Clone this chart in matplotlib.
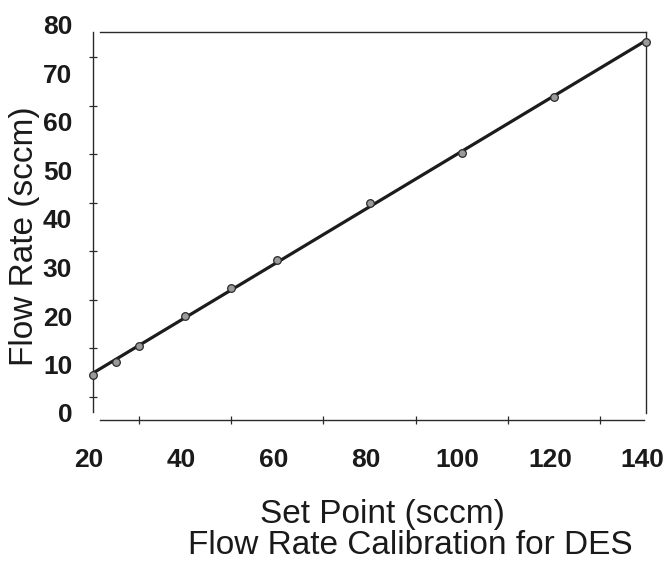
import matplotlib
matplotlib.use("Agg")
import matplotlib.pyplot as plt
import matplotlib.transforms as mtransforms
import numpy as np

# Data
set_point = [20, 25, 30, 40, 50, 60, 80, 100, 120, 140]
flow_rate = [7.8, 10.5, 13.8, 20.0, 25.8, 31.5, 43.3, 53.6, 65.2, 76.5]
x_tick_labels = [20, 40, 60, 80, 100, 120, 140]
y_tick_labels = [0, 10, 20, 30, 40, 50, 60, 70, 80]
x_minor = [30, 50, 70, 90, 110, 130]
y_minor = [3.4, 13.4, 23.4, 33.4, 43.4, 53.4, 63.4, 73.4]

plt.rcParams['font.family'] = ['Liberation Sans', 'DejaVu Sans']

W, H = 672, 562
fig = plt.figure(figsize=(W / 100, H / 100), dpi=100)
ax = fig.add_axes([93 / W, (H - 413) / H, 553 / W, 388 / H])
ax.set_xlim(20, 140)
ax.set_ylim(0, 80)

# fitted calibration line
coef = np.polyfit(set_point, flow_rate, 1)
xs = np.array([set_point[0], set_point[-1]])
ax.plot(xs, np.polyval(coef, xs), color='#1c1c1c', lw=2.3, solid_capstyle='butt',
        clip_on=False, zorder=3)
ax.plot(set_point, flow_rate, linestyle='none', marker='o', ms=5.5,
        mfc='#9a9a9a', mec='#2a2a2a', mew=0.9, clip_on=False, zorder=4)

spine_col = '#2a2a2a'
for s in ax.spines.values():
    s.set_color(spine_col)
    s.set_linewidth(1.0)
ax.spines['left'].set_bounds(0.2, 78.55)
ax.spines['right'].set_bounds(0.0, 78.55)
ax.spines['top'].set_position(('data', 78.55))
ax.spines['top'].set_bounds(21.5, 140)
ax.spines['bottom'].set_position(('data', -1.45))
ax.spines['bottom'].set_bounds(21.5, 139.5)

ax.set_xticks(x_tick_labels)
ax.set_xticklabels([str(v) for v in x_tick_labels])
ax.set_yticks(y_tick_labels)
ax.set_yticklabels([str(v) for v in y_tick_labels])
ax.set_xticks(x_minor, minor=True)
ax.set_yticks(y_minor, minor=True)

ax.tick_params(which='major', length=0)
ax.tick_params(axis='x', which='major', pad=20, labelsize=19, colors='#1a1a1a')
ax.tick_params(axis='y', which='major', pad=15, labelsize=19, colors='#1a1a1a')
ax.tick_params(which='minor', direction='inout', length=6, width=0.9, color=spine_col)
shift = mtransforms.ScaledTranslation(-4 / 100, 0, fig.dpi_scale_trans)
for lab in ax.get_xticklabels():
    lab.set_fontweight('bold')
    lab.set_transform(lab.get_transform() + shift)
for lab in ax.get_yticklabels():
    lab.set_fontweight('bold')

fig.text(382 / W, (H - 523) / H, 'Set Point (sccm)', ha='center', va='baseline',
         fontsize=24, color='#1a1a1a')
fig.text(25 / W, (H - 236) / H, 'Flow Rate (sccm)', ha='center', va='center',
         rotation=90, fontsize=24, color='#1a1a1a')
fig.text(410 / W, (H - 554) / H, 'Flow Rate Calibration for DES', ha='center',
         va='baseline', fontsize=24, color='#1a1a1a')

fig.savefig('out.png', dpi=100)
